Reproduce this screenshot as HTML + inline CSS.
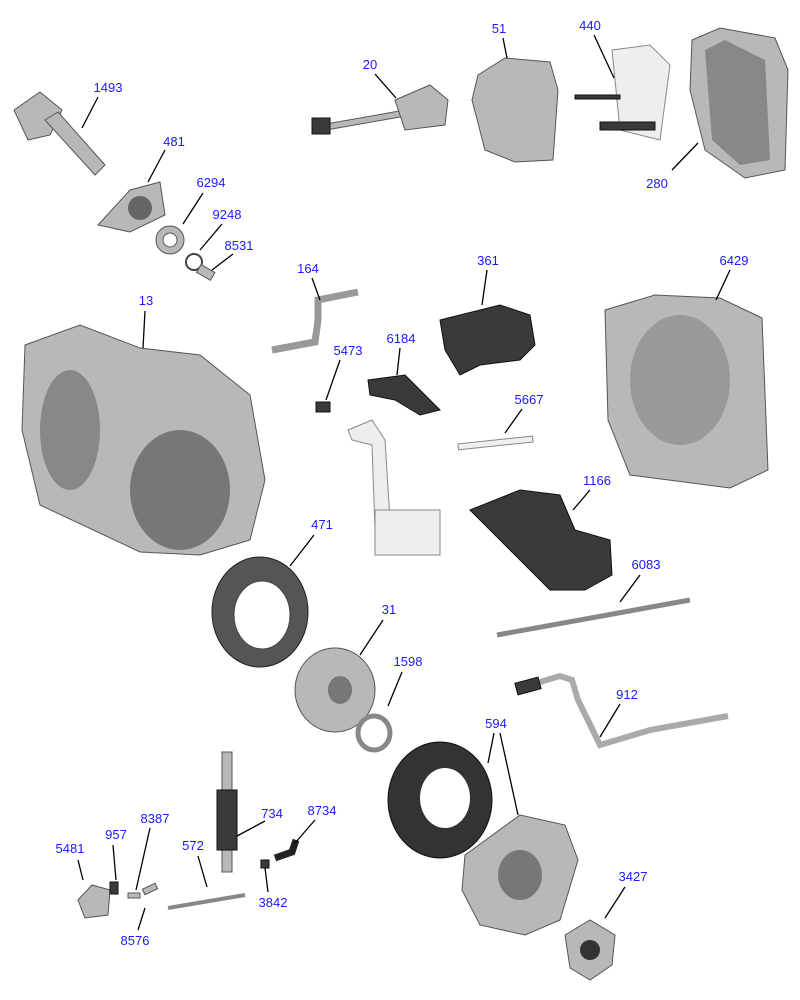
<!DOCTYPE html>
<html><head><meta charset="utf-8"><style>
html,body{margin:0;padding:0;background:#fff;}
svg{display:block}
text{font-family:"Liberation Sans",Arial,sans-serif;font-size:13px;fill:#1a1aff;text-anchor:middle}
.l{stroke:#000;stroke-width:1.3;fill:none}
.p{fill:#b8b8b8;stroke:#555;stroke-width:1}
.d{fill:#3a3a3a;stroke:#111;stroke-width:1}
.w{fill:#eee;stroke:#888;stroke-width:1}
</style></head><body>
<svg width="800" height="1000" viewBox="0 0 800 1000">
<polygon class="p" points="14,110 40,92 62,110 50,135 28,140"/>
<polygon class="p" points="45,120 58,112 105,165 95,175"/>
<polygon class="p" points="98,225 130,190 160,182 165,215 130,232"/>
<circle cx="140" cy="208" r="12" fill="#666"/>
<circle cx="170" cy="240" r="14" class="p"/><circle cx="170" cy="240" r="7" fill="#fff" stroke="#555"/>
<circle cx="194" cy="262" r="8" fill="none" stroke="#444" stroke-width="2"/>
<rect x="198" y="268" width="16" height="9" class="p" transform="rotate(30 206 272)"/>
<rect x="315" y="118" width="90" height="6" class="p" transform="rotate(-10 360 121)"/>
<rect x="312" y="118" width="18" height="16" class="d"/>
<polygon class="p" points="395,100 430,85 448,100 445,125 405,130"/>
<polygon class="p" points="478,75 505,58 550,62 558,90 553,160 515,162 485,150 472,100"/>
<polygon class="w" points="612,50 650,45 670,65 660,140 620,130"/>
<rect x="575" y="95" width="45" height="4" class="d"/>
<rect x="600" y="122" width="55" height="8" class="d"/>
<polygon class="p" points="692,40 720,28 775,38 788,70 785,170 745,178 705,150 690,90"/>
<polygon fill="#888" points="705,50 725,40 765,60 770,160 740,165 712,140"/>
<polyline points="272,350 315,342 318,320 318,300 358,292" fill="none" stroke="#999" stroke-width="7"/>
<polygon class="d" points="440,320 500,305 530,315 535,345 520,360 480,365 460,375 445,350"/>
<polygon class="p" points="605,310 655,295 720,298 762,318 768,470 730,488 630,475 608,420"/>
<ellipse cx="680" cy="380" rx="50" ry="65" fill="#999"/>
<polygon class="p" points="25,345 80,325 140,348 200,355 250,395 265,480 250,540 200,555 140,552 40,505 22,430"/>
<ellipse cx="180" cy="490" rx="50" ry="60" fill="#777"/>
<ellipse cx="70" cy="430" rx="30" ry="60" fill="#888"/>
<rect x="316" y="402" width="14" height="10" class="d"/>
<polygon class="d" points="368,380 405,375 440,410 420,415 395,400 370,395"/>
<polygon class="w" points="348,430 372,420 385,440 390,520 402,540 388,548 375,530 372,445 352,440"/>
<rect x="375" y="510" width="65" height="45" class="w"/>
<rect x="458" y="440" width="75" height="6" class="w" transform="rotate(-6 495 443)"/>
<polygon class="d" points="470,510 520,490 560,495 575,530 610,540 612,575 585,590 550,590 515,555 485,525"/>
<ellipse cx="260" cy="612" rx="48" ry="55" fill="#555" stroke="#222"/>
<ellipse cx="262" cy="615" rx="28" ry="34" fill="#fff" stroke="#444"/>
<line x1="497" y1="635" x2="690" y2="600" stroke="#888" stroke-width="5"/>
<ellipse cx="335" cy="690" rx="40" ry="42" class="p"/>
<ellipse cx="340" cy="690" rx="12" ry="14" fill="#777"/>
<ellipse cx="374" cy="733" rx="16" ry="17" fill="none" stroke="#888" stroke-width="5"/>
<polyline points="520,688 560,676 572,680 578,700 600,745 650,730 728,716" fill="none" stroke="#aaa" stroke-width="6"/>
<rect x="516" y="680" width="24" height="12" class="d" transform="rotate(-15 528 686)"/>
<ellipse cx="440" cy="800" rx="52" ry="58" fill="#333" stroke="#111"/>
<ellipse cx="445" cy="798" rx="25" ry="30" fill="#fff"/>
<polygon class="p" points="465,855 520,815 565,825 578,860 560,920 525,935 480,925 462,890"/>
<ellipse cx="520" cy="875" rx="22" ry="25" fill="#777"/>
<polygon class="p" points="565,935 590,920 615,935 612,965 590,980 570,968"/>
<circle cx="590" cy="950" r="10" fill="#333"/>
<rect x="222" y="752" width="10" height="120" class="p"/>
<rect x="217" y="790" width="20" height="60" class="d"/>
<polyline points="275,858 292,852 296,840" fill="none" stroke="#222" stroke-width="7"/>
<rect x="261" y="860" width="8" height="8" class="d"/>
<line x1="168" y1="908" x2="245" y2="895" stroke="#888" stroke-width="4"/>
<polygon class="p" points="78,900 92,885 110,890 108,915 85,918"/>
<rect x="110" y="882" width="8" height="12" class="d"/>
<rect x="128" y="893" width="12" height="5" class="p"/>
<rect x="143" y="886" width="14" height="6" class="p" transform="rotate(-25 150 889)"/>
<g class="l">
<line x1="98" y1="97" x2="82" y2="128"/>
<line x1="165" y1="150" x2="148" y2="182"/>
<line x1="203" y1="193" x2="183" y2="224"/>
<line x1="222" y1="224" x2="200" y2="250"/>
<line x1="233" y1="254" x2="212" y2="270"/>
<line x1="375" y1="74" x2="396" y2="98"/>
<line x1="503" y1="38" x2="507" y2="58"/>
<line x1="594" y1="35" x2="614" y2="78"/>
<line x1="672" y1="170" x2="698" y2="143"/>
<line x1="312" y1="278" x2="320" y2="300"/>
<line x1="487" y1="270" x2="482" y2="305"/>
<line x1="730" y1="270" x2="716" y2="300"/>
<line x1="145" y1="311" x2="143" y2="348"/>
<line x1="340" y1="360" x2="326" y2="400"/>
<line x1="400" y1="348" x2="397" y2="375"/>
<line x1="522" y1="409" x2="505" y2="433"/>
<line x1="590" y1="490" x2="573" y2="510"/>
<line x1="314" y1="535" x2="290" y2="566"/>
<line x1="640" y1="575" x2="620" y2="602"/>
<line x1="383" y1="620" x2="360" y2="655"/>
<line x1="402" y1="672" x2="388" y2="706"/>
<line x1="620" y1="704" x2="600" y2="737"/>
<line x1="494" y1="733" x2="488" y2="763"/>
<line x1="500" y1="733" x2="518" y2="815"/>
<line x1="265" y1="821" x2="237" y2="836"/>
<line x1="315" y1="820" x2="295" y2="843"/>
<line x1="78" y1="860" x2="83" y2="880"/>
<line x1="113" y1="845" x2="116" y2="880"/>
<line x1="150" y1="828" x2="136" y2="890"/>
<line x1="198" y1="856" x2="207" y2="887"/>
<line x1="268" y1="892" x2="265" y2="868"/>
<line x1="138" y1="930" x2="145" y2="908"/>
<line x1="625" y1="887" x2="605" y2="918"/>
</g>
<text x="108" y="92">1493</text>
<text x="174" y="146">481</text>
<text x="211" y="187">6294</text>
<text x="227" y="219">9248</text>
<text x="239" y="250">8531</text>
<text x="370" y="69">20</text>
<text x="499" y="33">51</text>
<text x="590" y="30">440</text>
<text x="657" y="188">280</text>
<text x="308" y="273">164</text>
<text x="488" y="265">361</text>
<text x="734" y="265">6429</text>
<text x="146" y="305">13</text>
<text x="348" y="355">5473</text>
<text x="401" y="343">6184</text>
<text x="529" y="404">5667</text>
<text x="597" y="485">1166</text>
<text x="322" y="529">471</text>
<text x="646" y="569">6083</text>
<text x="389" y="614">31</text>
<text x="408" y="666">1598</text>
<text x="627" y="699">912</text>
<text x="496" y="728">594</text>
<text x="272" y="818">734</text>
<text x="322" y="815">8734</text>
<text x="70" y="853">5481</text>
<text x="116" y="839">957</text>
<text x="155" y="823">8387</text>
<text x="193" y="850">572</text>
<text x="273" y="907">3842</text>
<text x="135" y="945">8576</text>
<text x="633" y="881">3427</text>
</svg>
</body></html>
